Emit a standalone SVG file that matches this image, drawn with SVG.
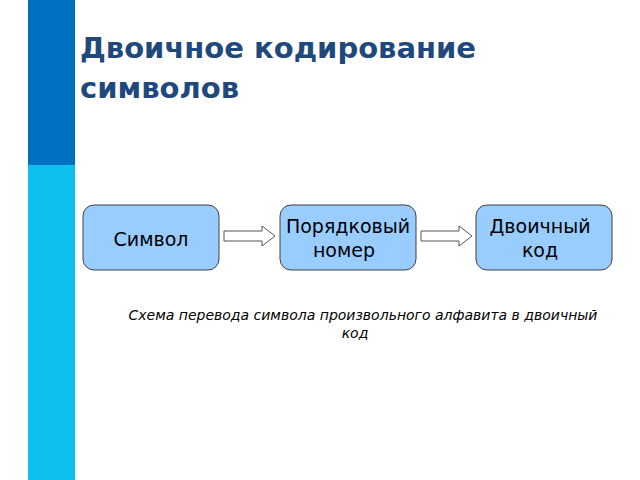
<svg xmlns="http://www.w3.org/2000/svg" width="640" height="480" viewBox="0 0 640 480">
<style>
.box{fill:#99CCFF;stroke:#404040;stroke-width:1}
.t{font-family:"DejaVu Sans",sans-serif;font-size:19px;fill:#000;text-anchor:middle}
.arr{fill:#fff;stroke:#555;stroke-width:1}
</style>
<rect width="640" height="480" fill="#fff"/>
<rect x="28" y="0" width="47" height="165" fill="#0070C0"/>
<rect x="28" y="165" width="47" height="315" fill="#0EC0F0"/>
<text x="80" y="58" font-family="DejaVu Sans,sans-serif" font-weight="bold" font-size="29" fill="#1F497D">Двоичное кодирование</text>
<text x="80" y="98" font-family="DejaVu Sans,sans-serif" font-weight="bold" font-size="29" fill="#1F497D">символов</text>
<g id="n1"><rect class="box" x="83" y="205" width="136" height="65" rx="11"/><text class="t" x="151" y="246">Символ</text></g>
<g id="n2"><rect class="box" x="280" y="205" width="136" height="65" rx="11"/><text class="t" x="348" y="233">Порядковый</text><text class="t" x="344" y="257">номер</text></g>
<g id="n3"><rect class="box" x="476" y="205" width="136" height="65" rx="11"/><text class="t" x="540" y="233">Двоичный</text><text class="t" x="540" y="257">код</text></g>
<g id="connectors">
<path class="arr" d="M224,231 H262 V226 L275,236 L262,246 V241 H224 Z"/>
<path class="arr" d="M421,231 H459 V226 L472,236 L459,246 V241 H421 Z"/>
</g>
<text x="363" y="320" font-family="DejaVu Sans,sans-serif" font-style="italic" font-size="14" text-anchor="middle">Схема перевода символа произвольного алфавита в двоичный</text>
<text x="355" y="338" font-family="DejaVu Sans,sans-serif" font-style="italic" font-size="14" text-anchor="middle">код</text>
</svg>
